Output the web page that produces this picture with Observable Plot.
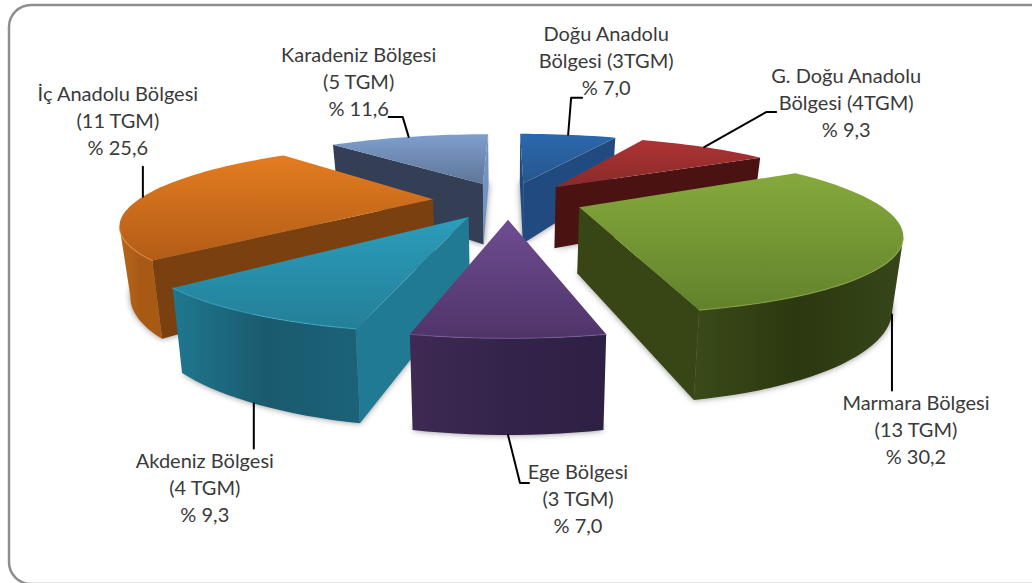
<!DOCTYPE html>
<html><head><meta charset="utf-8">
<style>html,body{margin:0;padding:0;background:#fff;overflow:hidden}svg{display:block}</style>
<script src="https://cdn.jsdelivr.net/npm/d3@7"></script>
<script src="https://cdn.jsdelivr.net/npm/@observablehq/plot@0.6"></script>
</head><body><div id="chart"></div>
<script>
// data (clockwise from 12 o'clock)
const regions = ["Doğu Anadolu", "G. Doğu Anadolu", "Marmara", "Ege", "Akdeniz", "İç Anadolu", "Karadeniz"];
const shares = [7.0, 9.3, 30.2, 7.0, 9.3, 25.6, 11.6];
const labels = [
  "Doğu Anadolu\nBölgesi (3TGM)\n% 7,0",
  "G. Doğu Anadolu\nBölgesi (4TGM)\n% 9,3",
  "Marmara Bölgesi\n(13 TGM)\n% 30,2",
  "Ege Bölgesi\n(3 TGM)\n% 7,0",
  "Akdeniz Bölgesi\n(4 TGM)\n% 9,3",
  "İç Anadolu Bölgesi\n(11 TGM)\n% 25,6",
  "Karadeniz Bölgesi\n(5 TGM)\n% 11,6"
];
// styling
const topStops = [["#2b68ad","#27568c"],["#ad3333","#8a2a2a"],["#86a93d","#62822b"],["#6f4c92","#4f3468"],["#2b9dbb","#247f98"],["#e47c20","#b25c17"],["#7e9fce","#5f7596"]];
const cutFill = ["#214b80","#4b1212","#384616","#3a2850","#217a94","#7a400f","#343f55"];
const arcStops = [["#20497c","#20497c","#20497c"],["#4b1212","#4b1212","#4b1212"],["#3a4a18","#2c3810","#36461a"],["#3e2a52","#33234a","#2e2045"],["#1f7890","#1a5a6e","#1b6278"],["#b8651a","#a85a15","#a85a15"],["#343f55","#343f55","#343f55"]];
const rimColor = ["#4a7fc0","#c05050","#9abb55","#7d5ba0","#3fb0cc","#f09040","#92b0da"];
const drawOrder = [6, 0, 1, 5, 4, 2, 3];
// leader elbows relative to the pie rim, label anchor relative to the rim
const leaders = [
  {rim:"top", elbow:[[3,-37],[14,-37]], text:[38,-75]},
  {rim:"top", elbow:[[62,-35],[72,-35]], text:[142,-46]},
  {rim:"bottom", elbow:[[0,76]], text:[24,114]},
  {rim:"bottom", elbow:[[12,48],[21,48]], text:[70,62]},
  {rim:"bottom", elbow:[[0,45]], text:[-49,83]},
  {rim:"top", elbow:[[0,-30]], text:[-25,-77]},
  {rim:"top", elbow:[[-6,-20],[-20,-20]], text:[-50,-57]}
];

// camera fitted to the picture
const cam = {cx:507.5, cy:199.5, A:295, B:71.5, k:0.28, explode:0.255};
const rad = (d) => d * Math.PI / 180;
function top3d(X, Y) {
  const w = 1 + cam.k * Y;
  return {x: cam.cx + cam.A * X / w, y: cam.cy - cam.B * Y / w};
}
function bottom3d(p) {
  return {x: cam.cx + (p.x - cam.cx) * 0.972, y: p.y + 60 + 0.235 * (p.y - 182)};
}

let cum = 0;
const total = d3.sum(shares);
const slices = shares.map((v, i) => {
  const a0 = cum / total * 360; cum += v; const a1 = cum / total * 360; const mid = (a0 + a1) / 2;
  const ox = cam.explode * Math.sin(rad(mid)), oy = cam.explode * Math.cos(rad(mid));
  const at = (t) => top3d(ox + Math.sin(rad(t)), oy + Math.cos(rad(t)));
  const n = Math.max(4, Math.round((a1 - a0) / 2));
  const thetas = d3.range(n + 1).map((j) => a0 + (a1 - a0) * j / n);
  return {i, a0, a1, mid, apex: top3d(ox, oy), arc: thetas.map(at), thetas, rimMid: at(mid)};
});

const polyMark = (pts, fill, extra = {}) => Plot.line([...pts, pts[0]], {x:"x", y:"y", fill, stroke:"none", ...extra});
const quad = (a, b) => [a, b, bottom3d(b), bottom3d(a)];

const defs = () => {
  const d = d3.create("svg:defs");
  topStops.forEach((st, i) => {
    const g = d.append("linearGradient").attr("id", "top" + i).attr("x1", 0).attr("y1", 0).attr("x2", 0).attr("y2", 1);
    g.append("stop").attr("offset", 0).attr("stop-color", st[0]);
    g.append("stop").attr("offset", 1).attr("stop-color", st[1]);
  });
  arcStops.forEach((st, i) => {
    const g = d.append("linearGradient").attr("id", "arc" + i).attr("x1", 0).attr("y1", 0).attr("x2", 1).attr("y2", 0);
    st.forEach((c, j) => g.append("stop").attr("offset", j / 2).attr("stop-color", c));
  });
  return d.node();
};

const marks = [defs];
// frame
marks.push(Plot.rect([{a:9, b:1100, c:5, d:584}], {x1:"a", x2:"b", y1:"c", y2:"d", rx:22, fill:"white", stroke:"#8e8e8e", strokeWidth:2.5}));
// soft shadows
for (const s of slices) {
  const outline = [s.apex, ...s.arc].map(bottom3d);
  marks.push(polyMark(outline, "#000", {fillOpacity:0.45, imageFilter:"blur(3px)"}));
}
for (const idx of drawOrder) {
  const s = slices[idx];
  const boundary = [s.apex, ...s.arc, s.apex];
  // side faces: a boundary edge that runs right to left on screen faces the viewer
  const cutA = boundary[0], cutB = boundary[1];
  if (cutB.x < cutA.x) marks.push(polyMark(quad(cutA, cutB), cutFill[idx]));
  const vis = [];
  s.arc.forEach((p, j) => {
    const prev = s.arc[j - 1], next = s.arc[j + 1];
    if ((next && next.x < p.x) || (prev && p.x < prev.x)) vis.push(p);
  });
  if (vis.length > 1) marks.push(polyMark([...vis, ...vis.slice().reverse().map(bottom3d)], `url(#arc${idx})`));
  const cutC = s.arc[s.arc.length - 1];
  if (s.apex.x < cutC.x) marks.push(polyMark(quad(cutC, s.apex), idx === 6 ? "#7294c4" : cutFill[idx]));
  marks.push(polyMark(boundary, `url(#top${idx})`));
  // rim highlight on the front of the top face
  if (vis.length > 1) marks.push(Plot.line(vis, {x:"x", y:"y", stroke:rimColor[idx], strokeWidth:1.2, strokeOpacity:0.6}));
}
// leaders and labels, anchored to each slice's rim
const textRows = [];
slices.forEach((s, i) => {
  const l = leaders[i];
  const start = l.rim === "top" ? s.rimMid : bottom3d(s.rimMid);
  const path = [start, ...l.elbow.map(([dx, dy]) => ({x: start.x + dx, y: start.y + dy}))];
  marks.push(Plot.line(path, {x:"x", y:"y", stroke:"#000", strokeWidth:2}));
  textRows.push({x: start.x + l.text[0], y: start.y + l.text[1], label: labels[i]});
});
marks.push(Plot.text(textRows, {x:"x", y:"y", text:"label", textAnchor:"middle", lineAnchor:"middle", lineHeight:1.35, fontSize:20, fontFamily:"Lato", fill:"#3a3a3a"}));

const chart = Plot.plot({
  width:1032, height:583, margin:0,
  x:{domain:[0,1032], range:[0,1032], axis:null},
  y:{domain:[0,583], range:[0,583], axis:null},
  marks
});
document.getElementById("chart").append(chart);
</script></body></html>
